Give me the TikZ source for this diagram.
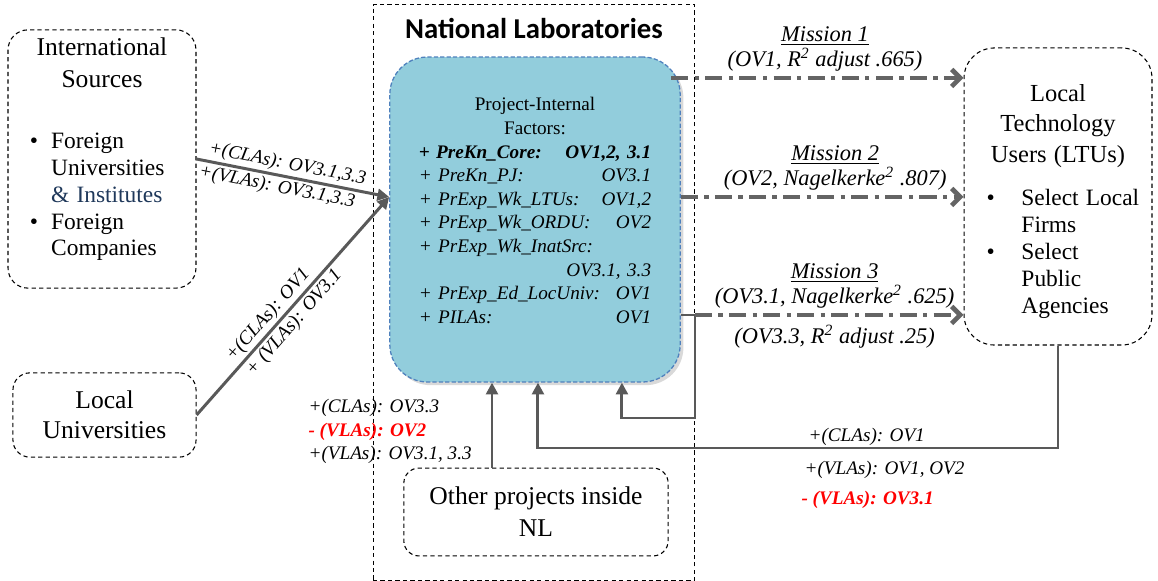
\documentclass[tikz,border=0pt]{standalone}
\usepackage{fontspec}
\setmainfont{Liberation Serif}
\newfontfamily\nlfont{Carlito}
\usetikzlibrary{shapes,arrows.meta,positioning,calc,shadows}

\definecolor{flowgray}{RGB}{89,89,89}
\definecolor{missiongray}{RGB}{100,100,100}
\definecolor{pifill}{RGB}{146,205,220}
\definecolor{piedge}{RGB}{79,129,189}
\definecolor{instblue}{RGB}{31,56,90}

\tikzset{
 srcbox/.style={rectangle,draw=black,line width=0.5pt,dash pattern=on 2pt off 1.5pt,rounded corners=#1,inner sep=2pt,align=center},
 srcbox/.default=0.3cm,
 pibox/.style={rectangle,draw=piedge,fill=pifill,line width=0.6pt,dash pattern=on 2pt off 1pt,rounded corners=0.62cm,
		drop shadow={opacity=0.3,shadow xshift=1.5pt,shadow yshift=-1.5pt}},
 flow/.style={draw=flowgray,line width=1.4pt,-{Triangle[length=5.5pt,width=5.5pt]}},
 mission/.style={draw=missiongray,line width=2.2pt,dash pattern=on 8pt off 3pt on 2pt off 3pt,-{Straight Barb[length=4pt,width=8pt]}},
 lbl/.style={font=\fontsize{9}{11}\selectfont\itshape,inner sep=1pt},
 neglbl/.style={lbl,text=red,font=\fontsize{9}{11}\selectfont\bfseries\itshape},
 mlbl/.style={font=\fontsize{10.5}{11.8}\selectfont\itshape,align=center,inner sep=2pt},
 boxtext/.style={text width=#1,align=left,inner sep=0pt,anchor=north}
}

\begin{document}
\begin{tikzpicture}[x=0.0165cm,y=-0.0165cm]
\useasboundingbox (0,0) rectangle (1158,581);

\node[srcbox=0pt, minimum width=5.31cm, minimum height=9.49cm] (nl) at (534,292.5) {};
\node[font=\nlfont\bfseries\fontsize{13.5}{15}\selectfont, below=1mm of nl.north] (nltitle) {National Laboratories};

\node[srcbox=0.33cm, minimum width=3.1cm, minimum height=4.26cm] (intl) at (102,159) {};
\node[boxtext=2.8cm] (intltext) at (102,37.5) {%
 {\centering\fontsize{12}{15}\selectfont International\\Sources\par}
 \vspace{16pt}
 \fontsize{11}{12.6}\selectfont
 \hspace*{6pt}\makebox[10pt][l]{\textbullet}Foreign\par
 \hspace*{16pt}Universities\par
 \hspace*{16pt}\textcolor{instblue}{\& Institutes}\par
 \hspace*{6pt}\makebox[10pt][l]{\textbullet}Foreign\par
 \hspace*{16pt}Companies\par};

\node[srcbox=0.28cm, minimum width=3.02cm, minimum height=1.39cm, font=\fontsize{12}{14}\selectfont] (locu) at (104.5,415) {Local\\Universities};

\node[pibox, minimum width=4.79cm, minimum height=5.36cm] (pi) at (535,219.5) {};
\node[boxtext=109pt, font=\fontsize{9}{11.1}\selectfont] (pitext) at (535,97) {%
 {\centering Project-Internal\\Factors:\par}
 \itshape
 \textbf{+ PreKn\_Core:\hfill OV1,2, 3.1}\par
 + PreKn\_PJ:\hfill OV3.1\par
 + PrExp\_Wk\_LTUs:\hfill OV1,2\par
 + PrExp\_Wk\_ORDU:\hfill OV2\par
 + PrExp\_Wk\_InatSrc:\par
 \mbox{}\hfill OV3.1, 3.3\par
 + PrExp\_Ed\_LocUniv:\hfill OV1\par
 + PILAs:\hfill OV1\par};

\node[srcbox=0.25cm, minimum width=4.36cm, minimum height=1.45cm, font=\fontsize{12}{15}\selectfont] (other) at (536,512) {Other projects inside\\NL};

\node[srcbox=0.5cm, minimum width=3.1cm, minimum height=4.9cm] (ltu) at (1058,196.5) {};
\node[boxtext=2.85cm] (ltutext) at (1058,84) {%
 {\centering\fontsize{11.5}{14.3}\selectfont Local\\Technology\\Users (LTUs)\par}
 \vspace{7.6pt}
 \fontsize{11}{12.7}\selectfont
 \hspace*{7pt}\makebox[16.4pt][l]{\textbullet}Select Local\par
 \hspace*{23.4pt}Firms\par
 \hspace*{7pt}\makebox[16.4pt][l]{\textbullet}Select\par
 \hspace*{23.4pt}Public\par
 \hspace*{23.4pt}Agencies\par};

\coordinate (r1) at (0,78);
\coordinate (r2) at (0,197);
\coordinate (r3) at (0,315);
\coordinate (fb) at (695,418);
\coordinate (ret) at (0,448);
\coordinate (ox) at (492,0);

\draw[flow] (intl.east) -- node[lbl,sloped,above,pos=.46] (cla1) {+(CLAs): OV3.1,3.3}
	node[lbl,sloped,below,pos=.43] (vla1) {+(VLAs): OV3.1,3.3} (pi.west |- r2);
\draw[flow] (locu.east) -- node[lbl,sloped,above,pos=.42] (cla2) {+(CLAs): OV1}
	node[lbl,sloped,below,pos=.46] (vla2) {+ (VLAs): OV3.1} (pi.west |- r2);

\draw[mission,shorten <=-4.5pt] (pi.east |- r1) -- node[mlbl,above,pos=.51] (mis1)
	{\underline{Mission 1}\\(OV1, R\textsuperscript{2} adjust .665)} (ltu.west |- r1);
\draw[mission] (pi.east |- r2) -- node[mlbl,above,pos=.546] (mis2)
	{\underline{Mission 2}\\(OV2, Nagelkerke\textsuperscript{2} .807)} (ltu.west |- r2);
\draw[flow] (pi.east |- r3) -| (fb) -| ([xshift=40.8pt]pi.south);
\draw[mission] (fb |- r3) -- node[mlbl,above,pos=.52] (mis3)
	{\underline{Mission 3}\\(OV3.1, Nagelkerke\textsuperscript{2} .625)}
	node[mlbl,below=1.5pt,pos=.52] (mis3b) {(OV3.3, R\textsuperscript{2} adjust .25)} (ltu.west |- r3);

\draw[flow] (other.north -| ox) -- (pi.south -| ox);
\draw[flow] (ltu.south) -- (ltu.south |- ret) -| ([xshift=1.4pt]pi.south);

\node[lbl,anchor=base west] (olbl1) at (306,413) {+(CLAs): OV3.3};
\node[neglbl,anchor=base west] (olbl2) at (306,437) {- (VLAs): OV2};
\node[lbl,anchor=base west] (olbl3) at (306,460) {+(VLAs): OV3.1, 3.3};

\node[lbl,anchor=base west] (rlbl1) at (806,442) {+(CLAs): OV1};
\node[lbl,anchor=base west] (rlbl2) at (802,475) {+(VLAs): OV1, OV2};
\node[neglbl,anchor=base west] (rlbl3) at (799,505) {- (VLAs): OV3.1};
\end{tikzpicture}
\end{document}
